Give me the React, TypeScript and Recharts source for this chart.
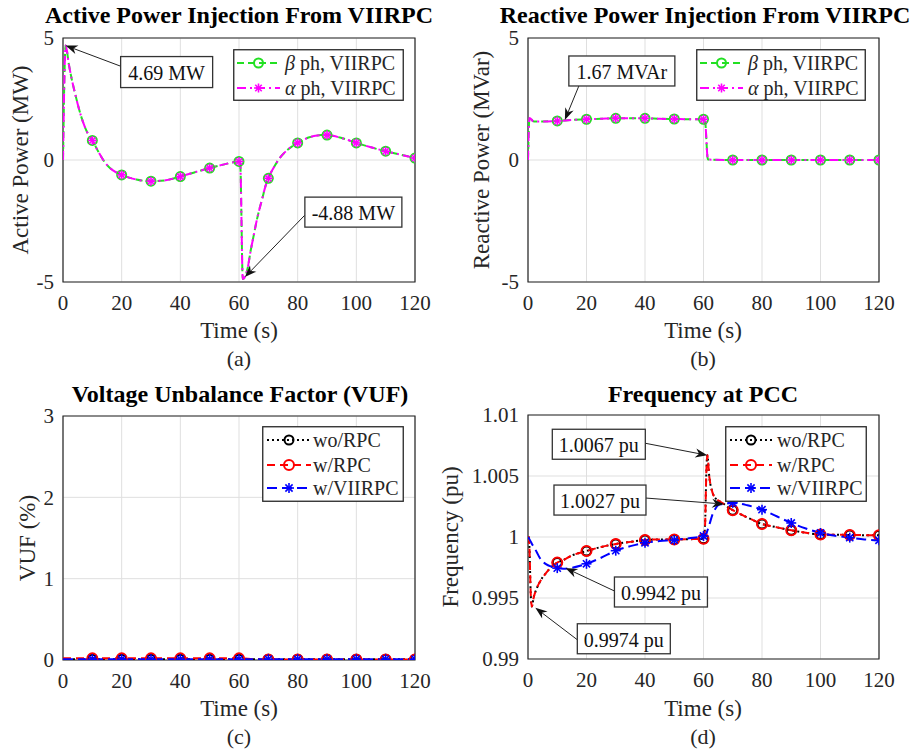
import React from 'react';
import {
  LineChart,
  Line,
  XAxis,
  YAxis,
  CartesianGrid,
  ReferenceArea,
  ReferenceDot,
  Legend,
} from 'recharts';

const FONT = '"Liberation Serif", "Times New Roman", Times, serif';
const TXT = '#262626';

// ---------- shared ----------
const timeTicks = [0, 20, 40, 60, 80, 100, 120];
const markerTimes = [10, 20, 30, 40, 50, 60, 70, 80, 90, 100, 110, 120];

// ---------- (a) Active power ----------
const timeA = [0, 0.9, 2, 3, 4, 5, 6, 7, 8, 9, 10, 12, 14, 16, 18, 20, 22, 25, 30, 35, 40, 45, 50, 55, 60, 60.4, 61.3, 63, 64, 65, 66, 67, 68, 69, 70, 72, 74, 76, 78, 80, 82, 84, 86, 88, 90, 92, 95, 100, 105, 110, 115, 120];
const activeBeta = [0, 4.69, 3.92, 3.3, 2.78, 2.3, 1.86, 1.5, 1.2, 0.98, 0.8, 0.35, -0.05, -0.33, -0.5, -0.61, -0.7, -0.8, -0.87, -0.83, -0.68, -0.5, -0.33, -0.18, -0.06, -0.1, -4.88, -4.4, -3.7, -3.1, -2.5, -2.0, -1.55, -1.08, -0.75, -0.28, 0.1, 0.36, 0.55, 0.7, 0.83, 0.93, 0.99, 1.02, 1.02, 0.99, 0.9, 0.7, 0.52, 0.36, 0.22, 0.08];
const activeAlpha = [0, 4.69, 3.92, 3.3, 2.78, 2.3, 1.86, 1.5, 1.2, 0.98, 0.8, 0.35, -0.05, -0.33, -0.5, -0.61, -0.7, -0.8, -0.87, -0.83, -0.68, -0.5, -0.33, -0.18, -0.06, -0.1, -4.88, -4.4, -3.7, -3.1, -2.5, -2.0, -1.55, -1.08, -0.75, -0.28, 0.1, 0.36, 0.55, 0.7, 0.83, 0.93, 0.99, 1.02, 1.02, 0.99, 0.9, 0.7, 0.52, 0.36, 0.22, 0.08];
const powerTicks = [-5, 0, 5];

// ---------- (b) Reactive power ----------
const timeB = [0, 0.5, 2, 5, 10, 15, 20, 25, 30, 35, 40, 45, 50, 55, 60, 60.5, 61.5, 70, 80, 90, 100, 110, 120];
const reactiveBeta = [0, 1.72, 1.58, 1.58, 1.6, 1.64, 1.67, 1.69, 1.71, 1.71, 1.71, 1.69, 1.68, 1.67, 1.67, 1.62, 0.02, 0, 0, 0, 0, 0, 0];
const reactiveAlpha = [0, 1.72, 1.58, 1.58, 1.6, 1.64, 1.67, 1.69, 1.71, 1.71, 1.71, 1.69, 1.68, 1.67, 1.67, 1.62, 0.02, 0, 0, 0, 0, 0, 0];

// ---------- (c) VUF ----------
const timeC = [0, 5, 10, 20, 30, 40, 50, 60, 65, 70, 80, 90, 100, 110, 120];
const vufWo = [0.01, 0.01, 0.01, 0.01, 0.01, 0.01, 0.01, 0.01, 0.01, 0.01, 0.01, 0.01, 0.01, 0.01, 0.01];
const vufRpc = [0.02, 0.02, 0.02, 0.02, 0.02, 0.02, 0.02, 0.02, 0.01, 0.005, 0.005, 0.005, 0.005, 0.005, 0.005];
const vufVii = [0.01, 0.01, 0.01, 0.01, 0.01, 0.01, 0.01, 0.01, 0.01, 0.01, 0.01, 0.01, 0.01, 0.01, 0.01];
const vufTicks = [0, 1, 2, 3];

// ---------- (d) Frequency ----------
const timeD = [0, 0.3, 1, 1.3, 2, 3, 4, 5, 6, 8, 10, 12, 15, 20, 25, 30, 35, 40, 45, 50, 55, 60, 60.5, 61, 61.3, 62, 63, 64, 65, 66, 67, 68, 70, 75, 80, 85, 90, 95, 100, 105, 110, 115, 120];
const freqWo = [1.0, 1.0, 0.995, 0.9943, 0.9951, 0.9958, 0.9963, 0.9967, 0.997, 0.99755, 0.9979, 0.9981, 0.99848, 0.99885, 0.99918, 0.99943, 0.9996, 0.99975, 0.9998, 0.9998, 0.99982, 0.99985, 1.0008, 1.0055, 1.0067, 1.0049, 1.0037, 1.0032, 1.003, 1.00285, 1.0027, 1.0025, 1.0022, 1.0016, 1.00107, 1.0008, 1.00055, 1.00035, 1.0002, 1.00018, 1.00017, 1.00015, 1.00014];
const freqRpc = [1.0, 1.0, 0.995, 0.9943, 0.9951, 0.9958, 0.9963, 0.9967, 0.997, 0.99755, 0.9979, 0.9981, 0.99848, 0.99885, 0.99918, 0.99943, 0.9996, 0.99975, 0.9998, 0.9998, 0.99982, 0.99985, 1.0008, 1.0055, 1.0067, 1.0049, 1.0037, 1.0032, 1.003, 1.00285, 1.0027, 1.0025, 1.0022, 1.0016, 1.00107, 1.0008, 1.00055, 1.00035, 1.0002, 1.00018, 1.00017, 1.00015, 1.00014];
const freqVii = [1.0, 0.9999, 0.9996, 0.99945, 0.9992, 0.99875, 0.9983, 0.998, 0.9978, 0.99757, 0.99745, 0.9974, 0.99748, 0.9978, 0.9983, 0.99888, 0.99925, 0.99953, 0.99967, 0.99975, 0.9999, 1.00008, 1.00015, 1.0003, 1.0005, 1.001, 1.0018, 1.0023, 1.0026, 1.00268, 1.0027, 1.00275, 1.0028, 1.0026, 1.00224, 1.0017, 1.00115, 1.0007, 1.00033, 1.0001, 0.99995, 0.9998, 0.99973];
const freqTicks = [0.99, 0.995, 1, 1.005, 1.01];

// ---------- tables ----------
const dataA = timeA.map((t, i) => ({ t, beta: activeBeta[i], alpha: activeAlpha[i] }));
const dataB = timeB.map((t, i) => ({ t, beta: reactiveBeta[i], alpha: reactiveAlpha[i] }));
const dataC = timeC.map((t, i) => ({ t, wo: vufWo[i], rpc: vufRpc[i], vii: vufVii[i] }));
const dataD = timeD.map((t, i) => ({ t, wo: freqWo[i], rpc: freqRpc[i], vii: freqVii[i] }));

type MarkerKind = 'o' | '*';
type SeriesDef = {
  key: string;
  label: React.ReactNode;
  color: string;
  dash: string;
  width: number;
  marker: MarkerKind;
  msize: number;
};

const Marker = ({ cx, cy, color, kind, size }: { cx: number; cy: number; color: string; kind: MarkerKind; size: number }) => {
  if (kind === 'o') {
    return <circle cx={cx} cy={cy} r={size} fill="none" stroke={color} strokeWidth={2} />;
  }
  const d = size * 0.72;
  return (
    <g stroke={color} strokeWidth={1.6}>
      <line x1={cx - size} y1={cy} x2={cx + size} y2={cy} />
      <line x1={cx} y1={cy - size} x2={cx} y2={cy + size} />
      <line x1={cx - d} y1={cy - d} x2={cx + d} y2={cy + d} />
      <line x1={cx - d} y1={cy + d} x2={cx + d} y2={cy - d} />
    </g>
  );
};

const makeDot = (s: SeriesDef) => (props: any) => {
  const { cx, cy, payload, index } = props;
  const k = `${s.key}-${index}`;
  if (cx == null || cy == null || !payload || !markerTimes.includes(payload.t)) return <g key={k} />;
  return (
    <g key={k}>
      <Marker cx={cx} cy={cy} color={s.color} kind={s.marker} size={s.msize} />
    </g>
  );
};

type Ann = { x: number; y: number; text: string; bx: number; by: number; bw: number; bh: number; ax: number; ay: number };

const makeAnnShape = (a: Ann) => (props: any) => {
  const { cx, cy } = props;
  const sx = cx + a.ax;
  const sy = cy + a.ay;
  const ang = Math.atan2(cy - sy, cx - sx);
  const L = 12;
  const W = 4.5;
  const c = Math.cos(ang);
  const sn = Math.sin(ang);
  const bx = cx - L * c;
  const by = cy - L * sn;
  const p1 = `${cx},${cy}`;
  const p2 = `${bx + W * sn},${by - W * c}`;
  const p3 = `${cx - L * 0.7 * c},${cy - L * 0.7 * sn}`;
  const p4 = `${bx - W * sn},${by + W * c}`;
  return (
    <g>
      <line x1={sx} y1={sy} x2={cx - L * 0.7 * c} y2={cy - L * 0.7 * sn} stroke="#222" strokeWidth={1} />
      <polygon points={`${p1} ${p2} ${p3} ${p4}`} fill="#111" />
      <rect x={cx + a.bx} y={cy + a.by} width={a.bw} height={a.bh} fill="#fff" stroke="#333" strokeWidth={1.3} />
      <text
        x={cx + a.bx + a.bw / 2}
        y={cy + a.by + a.bh / 2 + 1}
        textAnchor="middle"
        dominantBaseline="central"
        fontSize={20}
        fontFamily={FONT}
        fill="#111"
      >
        {a.text}
      </text>
    </g>
  );
};

type LegendLayout = { left: number; top: number; w: number; h: number; x0: number; x1: number; tx: number; rows: number[] };

const makeLegendContent = (series: SeriesDef[], lay: LegendLayout) => () => (
  <svg width={lay.w} height={lay.h} style={{ display: 'block' }}>
    <rect x={0.75} y={0.75} width={lay.w - 1.5} height={lay.h - 1.5} fill="#fff" stroke="#262626" strokeWidth={1.3} />
    {series.map((s, i) => {
      const y = lay.rows[i];
      const mx = (lay.x0 + lay.x1) / 2;
      return (
        <g key={s.key}>
          <line x1={lay.x0} y1={y} x2={lay.x1} y2={y} stroke={s.color} strokeWidth={s.width} strokeDasharray={s.dash} />
          <Marker cx={mx} cy={y} color={s.color} kind={s.marker} size={s.msize} />
          <text x={lay.tx} y={y} dominantBaseline="central" fontSize={20} fontFamily={FONT} fill={TXT}>
            {s.label}
          </text>
        </g>
      );
    })}
  </svg>
);

type PanelProps = {
  left: number;
  top: number;
  data: any[];
  series: SeriesDef[];
  yDomain: [number, number];
  yTicks: number[];
  yWidth: number;
  margin: { top: number; right: number; bottom: number; left: number };
  anns: Ann[];
  legend: LegendLayout;
};

const tickStyle = { fontSize: 21, fill: TXT, fontFamily: FONT };

const Panel = ({ left, top, data, series, yDomain, yTicks, yWidth, margin, anns, legend }: PanelProps) => (
  <div style={{ position: 'absolute', left, top, width: 457, height: 378 }}>
    <LineChart width={457} height={378} data={data} margin={margin}>
      <CartesianGrid stroke="#dfdfdf" strokeWidth={1} />
      <XAxis
        type="number"
        dataKey="t"
        domain={[0, 120]}
        ticks={timeTicks}
        interval={0}
        tickLine={false}
        axisLine={false}
        tickSize={0}
        tickMargin={13}
        height={30}
        tick={tickStyle}
        allowDataOverflow
      />
      <YAxis
        type="number"
        domain={yDomain}
        ticks={yTicks}
        interval={0}
        tickLine={false}
        axisLine={false}
        tickSize={0}
        tickMargin={9}
        width={yWidth}
        tick={tickStyle}
        tickFormatter={(v: number) => String(v)}
        allowDataOverflow
      />
      {series.map((s) => (
        <Line
          key={s.key}
          type="monotone"
          dataKey={s.key}
          stroke={s.color}
          strokeWidth={s.width}
          strokeDasharray={s.dash}
          dot={makeDot(s)}
          activeDot={false}
          isAnimationActive={false}
        />
      ))}
      <ReferenceArea
        x1={0}
        x2={120}
        y1={yDomain[0]}
        y2={yDomain[1]}
        fill="none"
        fillOpacity={0}
        stroke="#262626"
        strokeWidth={1.2}
        ifOverflow="visible"
      />
      {anns.map((a, i) => (
        <ReferenceDot key={i} x={a.x} y={a.y} r={0} ifOverflow="visible" shape={makeAnnShape(a)} />
      ))}
      <Legend
        layout="vertical"
        align="center"
        verticalAlign="middle"
        content={makeLegendContent(series, legend)}
        wrapperStyle={{ position: 'absolute', left: legend.left, top: legend.top, width: legend.w, height: legend.h }}
      />
    </LineChart>
  </div>
);

const phaseSeries: SeriesDef[] = [
  { key: 'beta', label: <><tspan fontStyle="italic">β</tspan> ph, VIIRPC</>, color: '#22e022', dash: '7 4', width: 2, marker: 'o', msize: 4.5 },
  { key: 'alpha', label: <><tspan fontStyle="italic">α</tspan> ph, VIIRPC</>, color: '#ff00ff', dash: '9 4 2 4', width: 2, marker: '*', msize: 4.5 },
];

const compSeries: SeriesDef[] = [
  { key: 'wo', label: 'wo/RPC', color: '#000000', dash: '2 3', width: 2, marker: 'o', msize: 4.5 },
  { key: 'rpc', label: 'w/RPC', color: '#ff0000', dash: '8 5', width: 2, marker: 'o', msize: 5 },
  { key: 'vii', label: 'w/VIIRPC', color: '#0000ff', dash: '10 5', width: 2, marker: '*', msize: 5 },
];

const annA: Ann[] = [
  { x: 0.9, y: 4.69, text: '4.69 MW', bx: 55, by: 11, bw: 92, bh: 31, ax: 56, ay: 21 },
  { x: 62, y: -4.8, text: '-4.88 MW', bx: 60, by: -80, bw: 97, bh: 30, ax: 60, ay: -62 },
];
const annB: Ann[] = [{ x: 12.6, y: 1.64, text: '1.67 MVAr', bx: 4, by: -64, bw: 106, bh: 30, ax: 14, ay: -34 }];
const annD: Ann[] = [
  { x: 61.3, y: 1.0067, text: '1.0067 pu', bx: -155, by: -26, bw: 93, bh: 30, ax: -62, ay: -12 },
  { x: 67, y: 1.0027, text: '1.0027 pu', bx: -170, by: -19, bw: 92, bh: 30, ax: -78, ay: -6 },
  { x: 12.8, y: 0.99746, text: '0.9942 pu', bx: 49, by: 9, bw: 93, bh: 30, ax: 49, ay: 23 },
  { x: 2.5, y: 0.9942, text: '0.9974 pu', bx: 42, by: 16, bw: 93, bh: 30, ax: 42, ay: 32 },
];

const Overlay = () => {
  const title = { fontSize: 24, fontWeight: 700, fontFamily: FONT, fill: '#000', textAnchor: 'middle' as const };
  const lab = { fontSize: 23, fontFamily: FONT, fill: TXT, textAnchor: 'middle' as const };
  const sub = { fontSize: 22, fontFamily: FONT, fill: TXT, textAnchor: 'middle' as const };
  return (
    <svg width={914} height={756} style={{ position: 'absolute', left: 0, top: 0, pointerEvents: 'none' }}>
      <text x={239} y={23} {...title}>Active Power Injection From VIIRPC</text>
      <text x={705} y={23} {...title}>Reactive Power Injection From VIIRPC</text>
      <text x={240} y={402} {...title}>Voltage Unbalance Factor (VUF)</text>
      <text x={703} y={402} {...title}>Frequency at PCC</text>

      <text x={239} y={338} {...lab}>Time (s)</text>
      <text x={703} y={338} {...lab}>Time (s)</text>
      <text x={239} y={716} {...lab}>Time (s)</text>
      <text x={703} y={716} {...lab}>Time (s)</text>

      <text x={239} y={366} {...sub}>(a)</text>
      <text x={703} y={366} {...sub}>(b)</text>
      <text x={239} y={744} {...sub}>(c)</text>
      <text x={703} y={744} {...sub}>(d)</text>

      <text x={28} y={160} transform="rotate(-90 28 160)" {...lab}>Active Power (MW)</text>
      <text x={489} y={160} transform="rotate(-90 489 160)" {...lab}>Reactive Power (MVar)</text>
      <text x={35} y={538} transform="rotate(-90 35 538)" {...lab}>VUF (%)</text>
      <text x={458} y={537} transform="rotate(-90 458 537)" {...lab}>Frequency (pu)</text>
    </svg>
  );
};

export default function App() {
  return (
    <div style={{ position: 'absolute', left: 0, top: 0, width: 914, height: 756, background: '#fff', overflow: 'hidden' }}>
      <Panel
        left={0}
        top={0}
        data={dataA}
        series={phaseSeries}
        yDomain={[-5, 5]}
        yTicks={powerTicks}
        yWidth={40}
        margin={{ top: 38, right: 42, bottom: 66, left: 23 }}
        anns={annA}
        legend={{ left: 233, top: 49, w: 171, h: 52, x0: 4, x1: 47, tx: 52, rows: [14, 39] }}
      />
      <Panel
        left={457}
        top={0}
        data={dataB}
        series={phaseSeries}
        yDomain={[-5, 5]}
        yTicks={powerTicks}
        yWidth={50}
        margin={{ top: 38, right: 35, bottom: 66, left: 21 }}
        anns={annB}
        legend={{ left: 239, top: 49, w: 170, h: 52, x0: 4, x1: 47, tx: 52, rows: [14, 39] }}
      />
      <Panel
        left={0}
        top={378}
        data={dataC}
        series={compSeries}
        yDomain={[0, 3]}
        yTicks={vufTicks}
        yWidth={40}
        margin={{ top: 38, right: 42, bottom: 66, left: 23 }}
        anns={[]}
        legend={{ left: 262, top: 48, w: 142, h: 76, x0: 5, x1: 49, tx: 51, rows: [14, 39, 62] }}
      />
      <Panel
        left={457}
        top={378}
        data={dataD}
        series={compSeries}
        yDomain={[0.99, 1.01]}
        yTicks={freqTicks}
        yWidth={50}
        margin={{ top: 37, right: 35, bottom: 67, left: 21 }}
        anns={annD}
        legend={{ left: 268, top: 48, w: 142, h: 76, x0: 5, x1: 47, tx: 52, rows: [14, 39, 62] }}
      />
      <Overlay />
    </div>
  );
}
